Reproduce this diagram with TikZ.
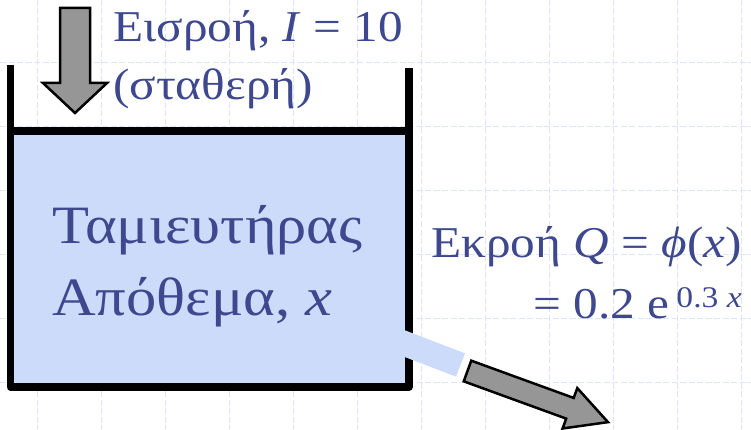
\documentclass[tikz,border=0pt]{standalone}
\usepackage{fontspec}
\setmainfont{Liberation Serif}[FakeStretch=1.12]
\definecolor{txt}{RGB}{62,72,142}
\definecolor{water}{RGB}{204,219,250}
\definecolor{gridc}{RGB}{220,228,250}
\definecolor{arrgray}{RGB}{150,150,150}
\tikzset{
  gridline/.style={gridc, line width=1.5pt, dash pattern=on 6pt off 2.5pt},
  wall/.style={black, line width=7.5pt, line join=round},
  blockarrow/.style={fill=arrgray, draw=black, line width=2.5pt, line join=miter},
  lbl/.style={inner sep=0pt, text=txt},
  big/.style={font=\fontsize{54}{60}\selectfont},
  mid/.style={font=\fontsize{44}{50}\selectfont},
}
\begin{document}
\begin{tikzpicture}[x=1pt,y=-1pt]
\useasboundingbox (0,0) rectangle (751,430);
% background grid
\foreach \i in {0,...,11} \draw[gridline] ({37.7+64*\i},0) -- ({37.7+64*\i},430);
\foreach \i in {0,...,5} \draw[gridline] (0,{62.5+64*\i}) -- (751,{62.5+64*\i});
% tank
\fill[water] (10.5,131) rectangle (409,387);
\draw[wall] (10.5,65) -- (10.5,387) -- (409,387) -- (409,68);
\draw[wall] (10.5,131) -- (409,131);
% outlet pipe
\coordinate (pipeA) at (398.9,341.4);
\coordinate (pipeB) at (460.5,365);
\draw[water, line width=25pt] (pipeA) -- (pipeB);
% inflow arrow
\draw[blockarrow] (60,8) -- (90,8) -- (90,83) -- (107,83) -- (75,113) -- (43,83) -- (60,83) -- cycle;
% outflow arrow
\begin{scope}[shift={(467.5,371)}, rotate=-20]
\draw[blockarrow] (0,-11) -- (109,-11) -- (109,-21.5) -- (149.5,0) -- (109,21.5) -- (109,11) -- (0,11) -- cycle;
\end{scope}
% texts
\node[lbl, mid, anchor=base west] (in1) at (113,42) {Εισροή, \textit{I} = 10};
\node[lbl, mid, anchor=base west] (in2) at (113,100) {(σταθερή)};
\node[lbl, big, anchor=base west] (t1) at (52,243) {Ταμιευτήρας};
\node[lbl, big, anchor=base west] (t2) at (52,315) {Απόθεμα, \textit{x}};
\node[lbl, mid, anchor=base east] (o1) at (742,257) {Εκροή \textit{Q} = \textit{ϕ}(\textit{x})};
\node[lbl, mid, anchor=base east] (o2) at (742,318) {= 0.2 e\,\raisebox{11pt}{\fontsize{30}{30}\selectfont 0.3 \textit{x}}};
\end{tikzpicture}
\end{document}
